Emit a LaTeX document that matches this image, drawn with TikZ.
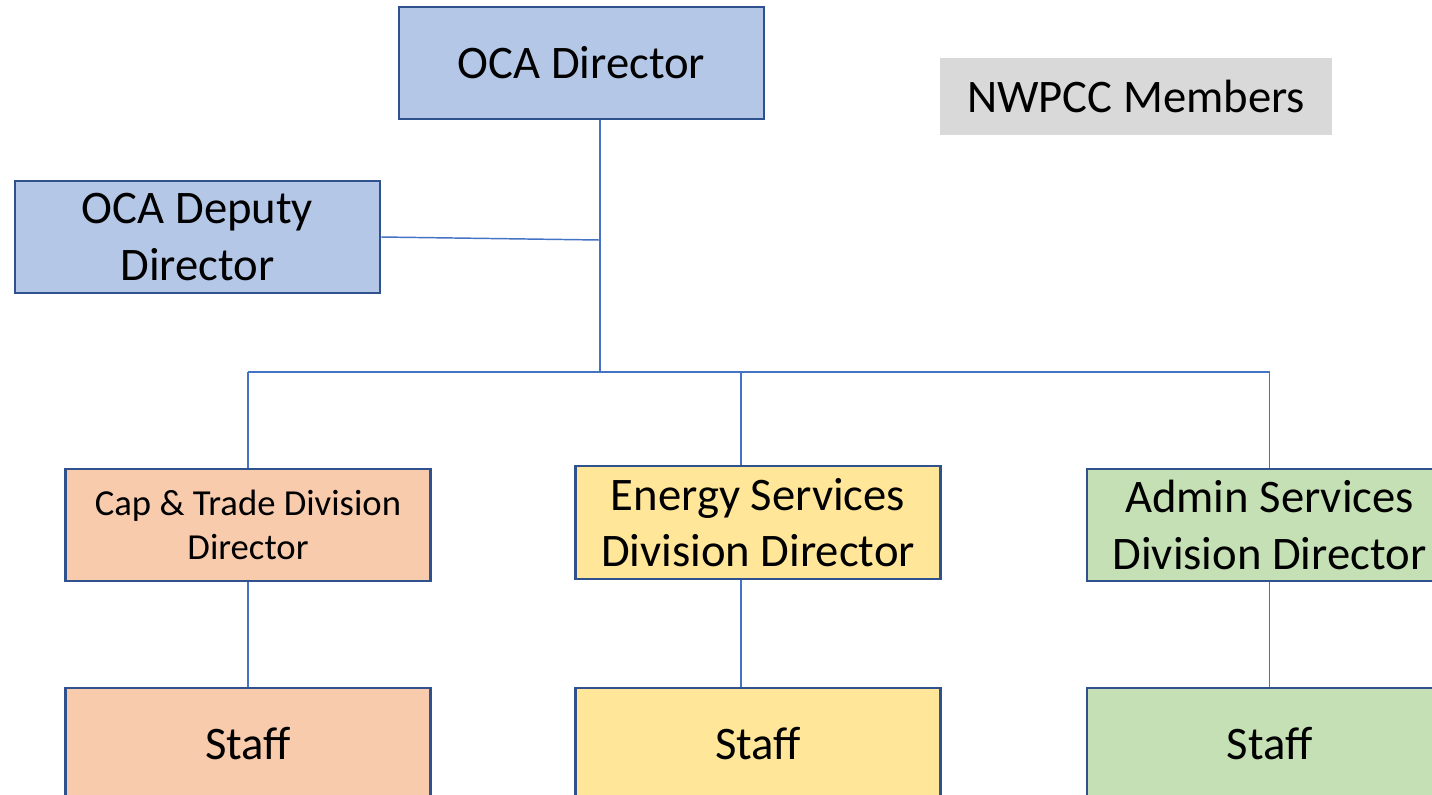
\documentclass[tikz,border=0pt]{standalone}
\usepackage{fontspec}
\setmainfont{Carlito}
\definecolor{bordc}{HTML}{2F528F}
\definecolor{linec}{HTML}{4472C4}
\definecolor{fblue}{HTML}{B4C7E7}
\definecolor{forange}{HTML}{F8CBAD}
\definecolor{fyellow}{HTML}{FFE699}
\definecolor{fgreen}{HTML}{C5E0B4}
\definecolor{fgrey}{HTML}{D9D9D9}
\tikzset{
  orgbox/.style={draw=bordc, line width=2.1pt, rectangle, inner sep=0pt,
    minimum width=273.75pt, minimum height=84pt, align=center,
    font=\fontsize{35}{42.5}\selectfont},
  smallbox/.style={orgbox, font=\fontsize{27.5}{33.5}\selectfont},
  conn/.style={draw=linec, line width=1.1pt},
}
\begin{document}
\begin{tikzpicture}[x=0.75pt,y=-0.75pt]
\useasboundingbox (0,0) rectangle (1432,794);
\clip (0,0) rectangle (1432,794);
\node[orgbox, fill=fblue] (oca) at (581.5,63) {OCA Director};
\node[rectangle, fill=fgrey, inner sep=0pt, minimum width=294pt, minimum height=57.75pt,
  font=\fontsize{35}{42.5}\selectfont] (nw) at (1136,96.5) {NWPCC Members};
\node[orgbox, fill=fblue] (dep) at (197.5,237) {OCA Deputy\\Director};
\node[smallbox, fill=forange] (cap) at (248,525) {Cap \& Trade Division\\Director};
\node[orgbox, fill=fyellow, minimum height=84.75pt] (ene) at (758,522.5) {Energy Services\\Division Director};
\node[orgbox, fill=fgreen] (adm) at (1269.5,525) {Admin Services\\Division Director};
\node[orgbox, fill=forange] (s1) at (248,744) {Staff};
\node[orgbox, fill=fyellow] (s2) at (758,744) {Staff};
\node[orgbox, fill=fgreen] (s3) at (1269.5,744) {Staff};
\coordinate (j) at (600,372);
\coordinate (d) at (600,240);
\coordinate (ex) at (741,372);
\draw[conn] (oca.south -| j) -- (j);
\draw[conn] (dep.east) -- (d);
\draw[conn] (cap.north |- j) -- (adm.north |- j);
\draw[conn] (cap.north |- j) -- (cap.north);
\draw[conn] (ex) -- (ex |- ene.north);
\draw[conn] (adm.north |- j) -- (adm.north);
\draw[conn] (cap.south) -- (s1.north);
\draw[conn] (ex |- ene.south) -- (ex |- s2.north);
\draw[conn] (adm.south) -- (s3.north);
\end{tikzpicture}
\end{document}
